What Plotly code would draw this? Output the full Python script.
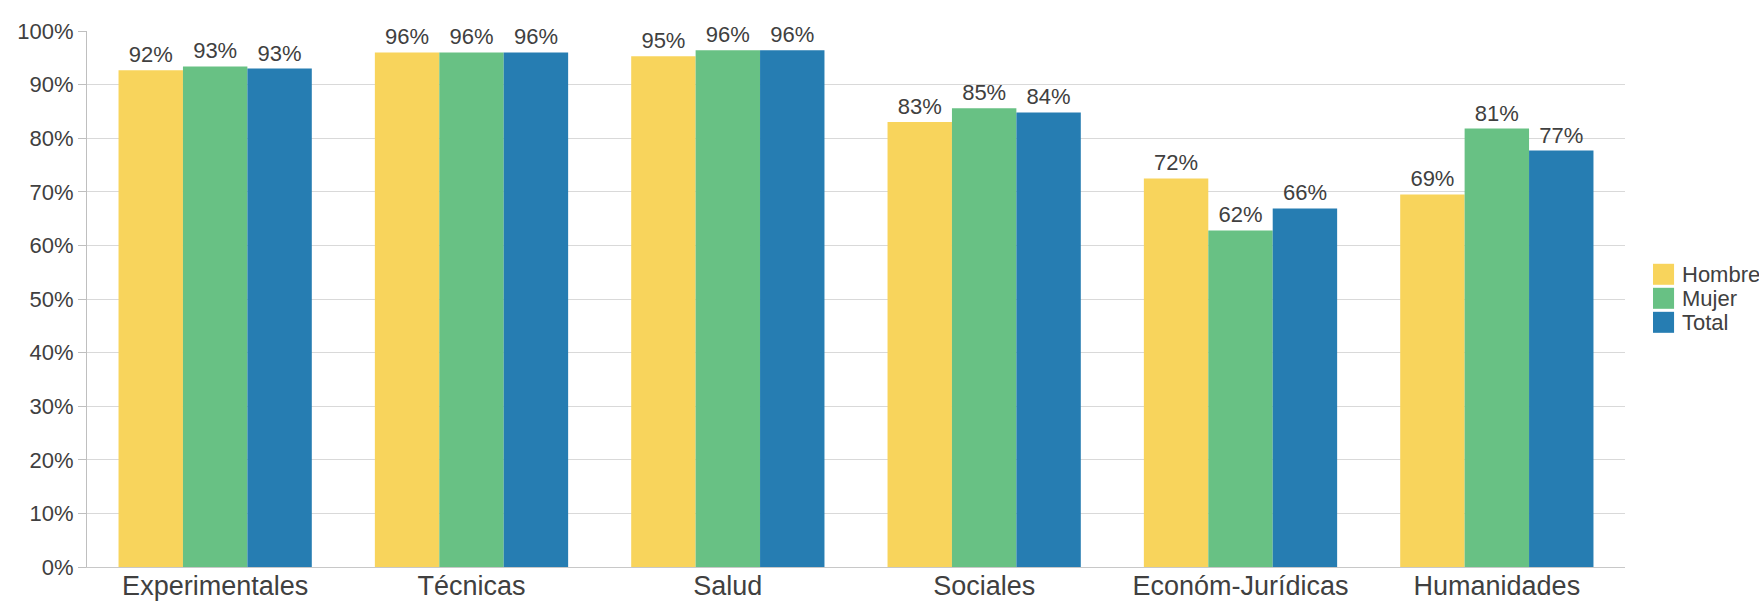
import plotly.graph_objects as go

categories = ["Experimentales", "Técnicas", "Salud", "Sociales", "Económ-Jurídicas", "Humanidades"]
series_names = ["Hombre", "Mujer", "Total"]
hombre = [92.7, 96.0, 95.3, 83.0, 72.5, 69.5]
mujer = [93.4, 96.0, 96.4, 85.6, 62.8, 81.8]
total = [93.0, 96.0, 96.4, 84.8, 66.9, 77.7]
hombre_labels = ["92%", "96%", "95%", "83%", "72%", "69%"]
mujer_labels = ["93%", "96%", "96%", "85%", "62%", "81%"]
total_labels = ["93%", "96%", "96%", "84%", "66%", "77%"]
y_ticks = [0, 10, 20, 30, 40, 50, 60, 70, 80, 90, 100]
y_tick_labels = ["0%", "10%", "20%", "30%", "40%", "50%", "60%", "70%", "80%", "90%", "100%"]

colors = ["#F8D45C", "#68C184", "#267DB2"]
text_color = "#404040"
font_family = "Liberation Sans, Arial, sans-serif"

fig = go.Figure()
for name, vals, labels, col in zip(series_names, [hombre, mujer, total],
                                   [hombre_labels, mujer_labels, total_labels], colors):
    fig.add_trace(go.Bar(
        name=name, x=categories, y=vals, text=labels,
        textposition="outside", cliponaxis=False,
        textfont=dict(size=22, color=text_color, family=font_family),
        marker=dict(color=col, line=dict(width=0)),
        showlegend=False,
    ))

# Manual legend (larger squares like the reference)
leg_y = [0.5461, 0.5013, 0.4565]
half = 0.0196
for name, col, yc in zip(series_names, colors, leg_y):
    fig.add_shape(type="rect", xref="paper", yref="paper",
                  x0=1.0182, x1=1.0319, y0=yc - half, y1=yc + half,
                  fillcolor=col, line=dict(width=0))
    fig.add_annotation(xref="paper", yref="paper", x=1.0358, y=yc,
                       text=name, showarrow=False, xanchor="left", yanchor="middle",
                       font=dict(size=22, color=text_color, family=font_family))

fig.update_layout(
    width=1759, height=603,
    margin=dict(l=87, r=134, t=31, b=36, pad=0, autoexpand=False),
    paper_bgcolor="white", plot_bgcolor="white",
    barmode="group", bargap=0.246, bargroupgap=0,
    font=dict(family=font_family, color=text_color),
)
fig.update_xaxes(
    automargin=False,
    showline=True, linecolor="#c8c8c8", linewidth=1,
    tickfont=dict(size=27, color=text_color, family=font_family),
    ticks="", showgrid=False, ticklabelstandoff=-5,
)
fig.update_yaxes(
    automargin=False,
    range=[0, 100], tickmode="array", tickvals=y_ticks, ticktext=y_tick_labels,
    showgrid=True, gridcolor="#d9d9d9", gridwidth=1,
    showline=True, linecolor="#bfbfbf", linewidth=1,
    ticks="outside", ticklen=8, tickcolor="#bfbfbf",
    tickfont=dict(size=22, color=text_color, family=font_family),
    zeroline=False,
)

fig.write_html(
    "out.html",
    config={"displayModeBar": False},
    post_script="document.body.style.margin='0';document.body.style.overflow='hidden';",
)
